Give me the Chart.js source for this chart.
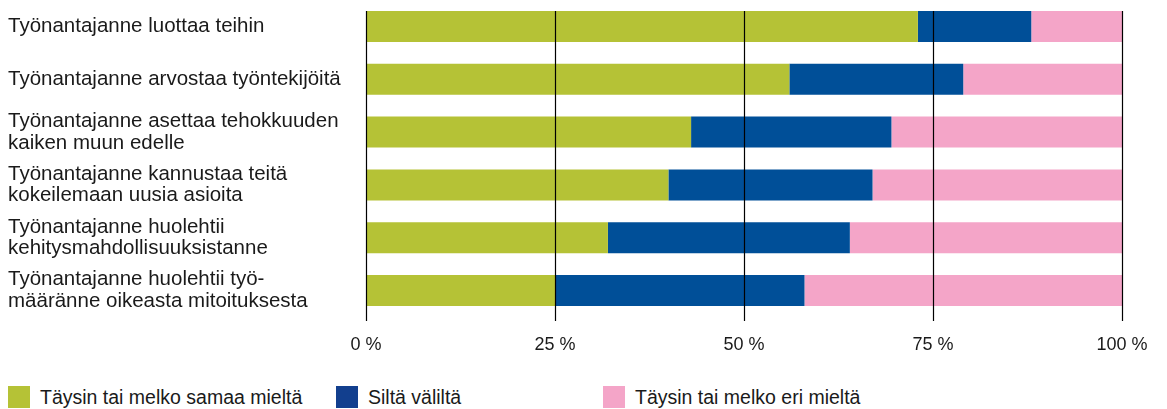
<!DOCTYPE html>
<html>
<head>
<meta charset="utf-8">
<script src="https://cdn.jsdelivr.net/npm/chart.js@4"></script>
<style>
    body { margin: 0; background: #fff; font-family: "Liberation Sans", Arial, sans-serif; }
    #wrap { position: relative; width: 1167px; height: 409px; }
    #chart { position: absolute; left: 0; top: 0; }
    .leg { position: absolute; top: 386px; font-size: 19.5px; color: #1a1a1a; line-height: 22px; white-space: nowrap; }
    .leg span { position: absolute; top: 0; width: 22px; height: 22px; }
    .leg b { font-weight: normal; position: absolute; left: 32px; top: 0; }
</style>
</head>
<body>
<div id="wrap">
    <canvas id="chart" width="1167" height="365"></canvas>
    <div class="leg" style="left:8px"><span style="background:#b5c236"></span><b>Täysin tai melko samaa mieltä</b></div>
    <div class="leg" style="left:336px"><span style="background:#123f8e"></span><b>Siltä väliltä</b></div>
    <div class="leg" style="left:603px"><span style="background:#f4a5c8"></span><b>Täysin tai melko eri mieltä</b></div>
</div>
<script>
const categories = [
    'Työnantajanne luottaa teihin',
    'Työnantajanne arvostaa työntekijöitä',
    ['Työnantajanne asettaa tehokkuuden', 'kaiken muun edelle'],
    ['Työnantajanne kannustaa teitä', 'kokeilemaan uusia asioita'],
    ['Työnantajanne huolehtii', 'kehitysmahdollisuuksistanne'],
    ['Työnantajanne huolehtii työ-', 'määränne oikeasta mitoituksesta']
];
const samaaMielta = [73, 56, 43, 40, 32, 25];
const siltaValilta = [15, 23, 26.5, 27, 32, 33];
const eriMielta = [12, 21, 30.5, 33, 36, 42];
const xTicks = [0, 25, 50, 75, 100];

// pystyviivat piirretään palkkien päälle
const gridLines = {
    id: 'gridLines',
    afterDatasetsDraw(chart) {
        const ctx = chart.ctx;
        const x = chart.scales.x;
        const first = chart.getDatasetMeta(0).data[0];
        const top = first.y - first.height / 2;
        const bottom = chart.chartArea.bottom + 4;
        ctx.save();
        ctx.strokeStyle = '#000';
        ctx.lineWidth = 1.2;
        xTicks.forEach(v => {
            const px = Math.round(x.getPixelForValue(v)) + 0.5;
            ctx.beginPath();
            ctx.moveTo(px, top);
            ctx.lineTo(px, bottom);
            ctx.stroke();
        });
        ctx.restore();
    }
};

new Chart(document.getElementById('chart'), {
    type: 'bar',
    data: {
        labels: categories,
        datasets: [
            { label: 'Täysin tai melko samaa mieltä', data: samaaMielta, backgroundColor: '#b5c236' },
            { label: 'Siltä väliltä', data: siltaValilta, backgroundColor: '#004f98' },
            { label: 'Täysin tai melko eri mieltä', data: eriMielta, backgroundColor: '#f4a5c8' }
        ]
    },
    options: {
        indexAxis: 'y',
        responsive: false,
        animation: false,
        layout: { padding: { left: 8, right: 45, top: 0, bottom: 0 } },
        datasets: { bar: { barPercentage: 0.6, categoryPercentage: 0.98 } },
        plugins: { legend: { display: false }, tooltip: { enabled: false } },
        scales: {
            x: {
                stacked: true,
                min: 0,
                max: 100,
                afterBuildTicks: s => { s.ticks = xTicks.map(v => ({ value: v })); },
                afterFit: s => { s.height = 48; },
                grid: { display: false },
                border: { display: false },
                ticks: {
                    padding: 9,
                    color: '#1a1a1a',
                    font: { family: 'Liberation Sans', size: 18 },
                    callback: v => v + ' %'
                }
            },
            y: {
                stacked: true,
                afterFit: s => { s.width = 358; s.paddingTop = 0; s.paddingBottom = 0; },
                grid: { display: false },
                border: { display: false },
                ticks: {
                    crossAlign: 'far',
                    padding: 0,
                    color: '#1a1a1a',
                    font: { family: 'Liberation Sans', size: 20.5, lineHeight: 1.05 }
                }
            }
        }
    },
    plugins: [gridLines]
});
</script>
</body>
</html>
